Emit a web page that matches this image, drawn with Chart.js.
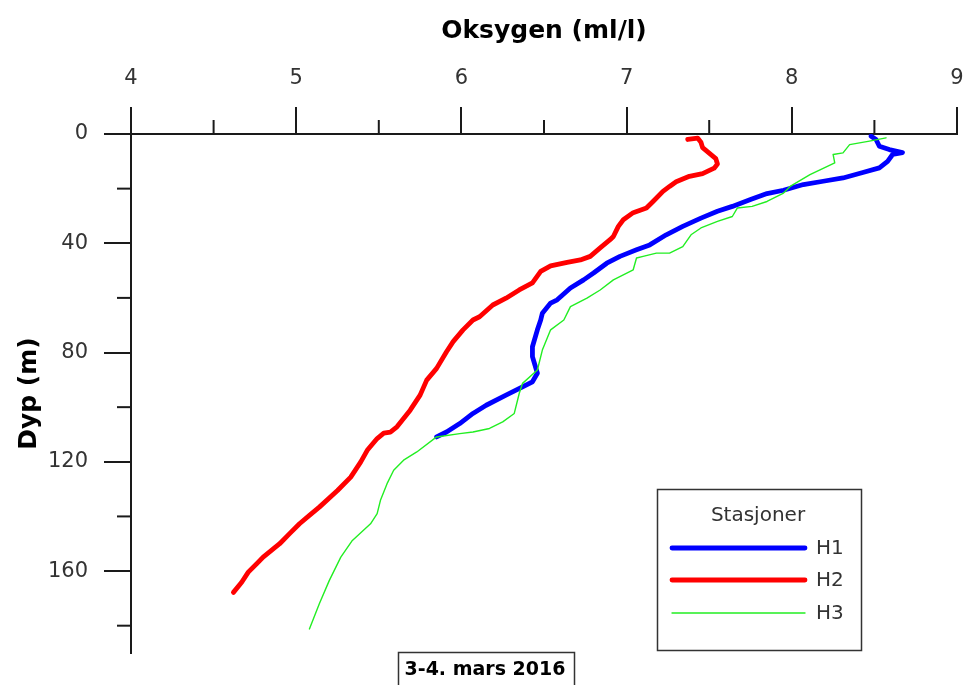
<!DOCTYPE html>
<html>
<head>
<meta charset="utf-8">
<script src="https://cdn.jsdelivr.net/npm/chart.js@4/dist/chart.umd.min.js"></script>
<style>
  html, body { margin: 0; padding: 0; background: #ffffff; }
  #wrap { width: 965px; height: 685px; position: relative; }
</style>
</head>
<body>
<div id="wrap"><canvas id="c" width="965" height="685"></canvas></div>
<script>
// ---- Data (oxygen ml/l, depth m) ----
const seriesNames = ["H1", "H2", "H3"];
const legendTitle = "Stasjoner";
const xTitle = "Oksygen (ml/l)";
const yTitle = "Dyp (m)";
const caption = "3-4. mars 2016";
const xTickLabels = ["4", "5", "6", "7", "8", "9"];
const yTickLabels = ["0", "40", "80", "120", "160"];

const h1Oxygen = [8.48, 8.51, 8.53, 8.59, 8.67, 8.61, 8.58, 8.53, 8.43, 8.31, 8.19, 8.07, 7.95, 7.85, 7.75, 7.64, 7.55, 7.45, 7.34, 7.24, 7.14, 7.06, 6.96, 6.88, 6.80, 6.74, 6.66, 6.58, 6.54, 6.49, 6.48, 6.46, 6.43, 6.43, 6.46, 6.43, 6.37, 6.27, 6.15, 6.07, 5.99, 5.91, 5.85];
const h1Depth  = [0.8, 2.0, 4.5, 5.7, 6.8, 7.5, 10.0, 12.4, 14.1, 16.1, 17.3, 18.5, 20.6, 21.8, 24.0, 26.5, 28.3, 30.8, 33.8, 36.9, 40.6, 42.4, 44.8, 47.3, 50.9, 53.4, 56.4, 60.7, 61.9, 65.6, 68.1, 71.7, 77.9, 81.5, 87.6, 90.7, 92.6, 95.6, 99.3, 102.3, 106.0, 109.1, 110.9];

const h2Oxygen = [7.37, 7.43, 7.45, 7.46, 7.50, 7.54, 7.55, 7.53, 7.46, 7.38, 7.30, 7.26, 7.22, 7.16, 7.12, 7.04, 6.98, 6.95, 6.92, 6.90, 6.84, 6.78, 6.72, 6.64, 6.54, 6.48, 6.43, 6.35, 6.27, 6.19, 6.11, 6.07, 6.01, 5.95, 5.91, 5.85, 5.79, 5.75, 5.69, 5.61, 5.57, 5.53, 5.49, 5.43, 5.39, 5.33, 5.25, 5.14, 5.08, 5.02, 4.96, 4.90, 4.80, 4.76, 4.71, 4.67, 4.62];
const h2Depth  = [2.0, 1.5, 3.0, 5.0, 7.0, 9.0, 11.0, 12.5, 14.5, 15.5, 17.5, 19.2, 21.0, 24.7, 27.1, 28.8, 31.4, 33.8, 37.5, 38.7, 41.7, 44.8, 46.1, 47.0, 48.3, 50.3, 54.5, 57.1, 60.1, 62.6, 66.9, 68.1, 71.7, 76.0, 79.7, 85.8, 90.1, 95.6, 101.1, 107.2, 109.1, 109.5, 111.5, 115.8, 120.1, 125.6, 130.5, 136.6, 139.6, 142.7, 146.3, 150.0, 154.9, 157.4, 160.4, 164.1, 167.8];

const h3Oxygen = [8.57, 8.47, 8.35, 8.31, 8.25, 8.26, 8.11, 7.99, 7.95, 7.85, 7.76, 7.67, 7.64, 7.55, 7.45, 7.39, 7.34, 7.26, 7.18, 7.10, 7.06, 7.04, 6.92, 6.84, 6.76, 6.66, 6.62, 6.54, 6.49, 6.46, 6.37, 6.35, 6.32, 6.25, 6.17, 6.07, 5.99, 5.85, 5.73, 5.65, 5.59, 5.55, 5.51, 5.49, 5.45, 5.34, 5.27, 5.20, 5.14, 5.08];
const h3Depth  = [1.4, 2.6, 3.9, 6.9, 7.5, 10.6, 14.9, 19.2, 21.6, 24.7, 26.5, 27.1, 30.2, 32.0, 34.4, 36.9, 41.2, 43.6, 43.6, 44.8, 45.4, 49.7, 53.4, 57.1, 60.1, 63.2, 68.1, 71.7, 79.1, 86.4, 91.3, 95.0, 102.3, 105.4, 107.8, 109.1, 109.7, 110.9, 116.4, 119.4, 123.1, 128.0, 134.1, 139.0, 142.7, 148.8, 154.9, 163.5, 172.0, 181.2];

const seriesColors = ["#0000ff", "#ff0000", "#22ee22"];
const seriesWidths = [4.8, 4.8, 1.4];

function pts(xs, ys) { return xs.map((v, i) => ({ x: v, y: ys[i] })); }

const FONT = "'DejaVu Sans', 'Liberation Sans', Arial, sans-serif";

const decorPlugin = {
  id: 'decor',
  afterDraw(chart) {
    const ctx = chart.ctx;
    const xs = chart.scales.x, ys = chart.scales.y;
    const area = chart.chartArea;
    ctx.save();
    // minor ticks
    ctx.strokeStyle = '#1a1a1a';
    ctx.lineWidth = 2;
    xs.ticks.forEach(t => {
      if (Math.abs(t.value - Math.round(t.value)) > 1e-6) {
        const px = xs.getPixelForValue(t.value);
        ctx.beginPath(); ctx.moveTo(px, area.top - 14); ctx.lineTo(px, area.top); ctx.stroke();
      }
    });
    ys.ticks.forEach(t => {
      if (t.value % 40 !== 0) {
        const py = ys.getPixelForValue(t.value);
        ctx.beginPath(); ctx.moveTo(area.left - 14, py); ctx.lineTo(area.left, py); ctx.stroke();
      }
    });
    // legend box
    const lx = 657.5, ly = 489.5, lw = 204, lh = 161;
    ctx.strokeStyle = '#333';
    ctx.lineWidth = 1.5;
    ctx.strokeRect(lx, ly, lw, lh);
    ctx.fillStyle = '#333';
    ctx.font = "20px " + FONT;
    ctx.textAlign = 'center';
    ctx.textBaseline = 'middle';
    ctx.fillText(legendTitle, 758, 516);
    const rowY = [548, 580, 613];
    chart.data.datasets.forEach((ds, i) => {
      ctx.strokeStyle = ds.borderColor;
      ctx.lineWidth = ds.borderWidth;
      ctx.lineCap = 'round';
      ctx.beginPath(); ctx.moveTo(672, rowY[i]); ctx.lineTo(805, rowY[i]); ctx.stroke();
      ctx.fillStyle = '#333';
      ctx.textAlign = 'left';
      ctx.fillText(ds.label, 816, rowY[i] + 1);
    });
    // caption box
    ctx.strokeStyle = '#333';
    ctx.lineWidth = 1.5;
    ctx.lineCap = 'butt';
    ctx.strokeRect(398.5, 652.5, 176, 40);
    ctx.fillStyle = '#000';
    ctx.font = "bold 19px " + FONT;
    ctx.textAlign = 'center';
    ctx.textBaseline = 'middle';
    ctx.fillText(caption, 485, 670);
    ctx.restore();
  }
};

new Chart(document.getElementById('c'), {
  type: 'line',
  data: {
    datasets: [
      { label: seriesNames[0], data: pts(h1Oxygen, h1Depth), borderColor: seriesColors[0], borderWidth: seriesWidths[0], order: 1 },
      { label: seriesNames[1], data: pts(h2Oxygen, h2Depth), borderColor: seriesColors[1], borderWidth: seriesWidths[1], order: 2 },
      { label: seriesNames[2], data: pts(h3Oxygen, h3Depth), borderColor: seriesColors[2], borderWidth: seriesWidths[2], order: 0 }
    ]
  },
  options: {
    responsive: false,
    animation: false,
    events: [],
    layout: { padding: { top: 0, left: 0, right: 8, bottom: 32 } },
    elements: {
      point: { radius: 0 },
      line: { tension: 0, borderJoinStyle: 'round', borderCapStyle: 'round', fill: false }
    },
    plugins: { legend: { display: false }, tooltip: { enabled: false }, title: { display: false } },
    scales: {
      x: {
        type: 'linear', position: 'top', min: 4, max: 9,
        afterFit(s) { s.height = 134; s.paddingLeft = 0; s.paddingRight = 0; },
        border: { display: true, color: '#1a1a1a', width: 2 },
        grid: {
          display: true, drawOnChartArea: false, drawTicks: true, tickLength: 27, lineWidth: 2,
          tickColor: (c) => (c.tick && Math.abs(c.tick.value - Math.round(c.tick.value)) < 1e-6) ? '#1a1a1a' : 'rgba(0,0,0,0)'
        },
        ticks: {
          stepSize: 0.5, padding: 16, color: '#333', maxRotation: 0, autoSkip: false,
          font: { family: FONT, size: 21 },
          callback: (v) => { const i = xTickLabels.indexOf(String(v)); return i >= 0 ? xTickLabels[i] : ''; }
        },
        title: { display: true, text: xTitle, color: '#000', padding: 16, font: { family: FONT, size: 25, weight: 'bold' } }
      },
      y: {
        type: 'linear', position: 'left', reverse: true, min: 0, max: 190,
        afterFit(s) { s.width = 131; s.paddingTop = 0; s.paddingBottom = 0; },
        border: { display: true, color: '#1a1a1a', width: 2 },
        grid: {
          display: true, drawOnChartArea: false, drawTicks: true, tickLength: 27, lineWidth: 2,
          tickColor: (c) => (c.tick && c.tick.value % 40 === 0) ? '#1a1a1a' : 'rgba(0,0,0,0)'
        },
        ticks: {
          stepSize: 20, includeBounds: false, padding: 16, color: '#333', autoSkip: false,
          font: { family: FONT, size: 21 },
          callback: (v) => { const i = yTickLabels.indexOf(String(v)); return i >= 0 ? yTickLabels[i] : ''; }
        },
        title: { display: true, text: yTitle, color: '#000', padding: 14, font: { family: FONT, size: 25, weight: 'bold' } }
      }
    }
  },
  plugins: [decorPlugin]
});
</script>
</body>
</html>
